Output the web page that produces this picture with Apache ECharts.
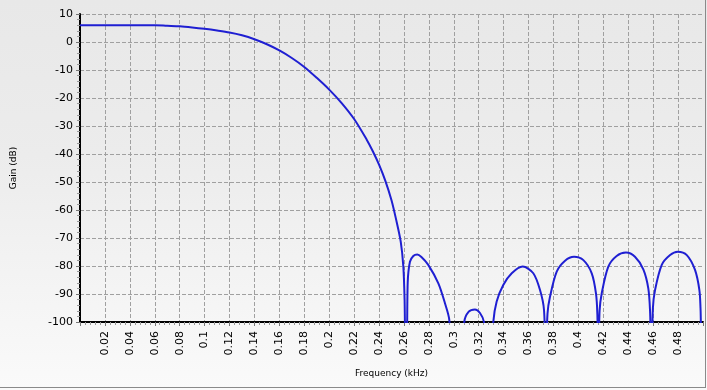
<!DOCTYPE html>
<html>
<head>
<meta charset="utf-8">
<script src="https://cdn.jsdelivr.net/npm/echarts@6/dist/echarts.min.js"></script>
<style>
html,body{margin:0;padding:0;}
#c{width:707px;height:390px;background:linear-gradient(to bottom,#e8e8e8 0%,#ececec 40%,#fafafa 100%);}
</style>
</head>
<body>
<div id="c"></div>
<script>
// Frequency (kHz)
var freq = [0,0.02,0.04,0.06,0.07,0.08,0.09,0.1,0.11,0.12,0.13,0.14,0.15,0.16,0.17,0.18,0.19,0.2,0.21,0.22,0.23,0.235,0.24,0.245,0.25,0.2535,0.2574,0.2595,0.2605,0.2614,0.2622,0.2630,0.2648,0.2675,0.2707,0.274,0.2795,0.2876,0.2929,0.2964,0.2975,0.3075,0.3084,0.312,0.317,0.321,0.3242,0.3255,0.3305,0.3317,0.3344,0.3397,0.3465,0.3553,0.3638,0.3692,0.3724,0.3738,0.3752,0.3772,0.3826,0.3893,0.3965,0.404,0.4107,0.4141,0.4152,0.4160,0.4170,0.4187,0.424,0.4307,0.4382,0.4454,0.4521,0.4561,0.4575,0.4587,0.4598,0.4615,0.4669,0.4736,0.4797,0.487,0.4936,0.4971,0.4980,0.4983];
// Gain (dB)
var gain = [6.0,6.0,6.0,6.0,5.8,5.6,5.2,4.7,4.1,3.4,2.4,1.0,-0.8,-3.0,-5.7,-8.9,-12.8,-17.0,-21.8,-27.5,-34.8,-39.0,-43.8,-49.5,-56.5,-63,-71.3,-80.2,-92,-115,-115,-86,-78.5,-76.4,-75.9,-76.8,-79.6,-86.2,-93.3,-99.3,-115,-115,-100,-96.3,-95.5,-96.8,-100,-115,-115,-100,-92.7,-86.8,-82.6,-80.2,-82.6,-88.6,-95.7,-115,-97,-91,-82,-78.1,-76.7,-77.9,-82.6,-89.8,-97,-115,-96,-89.8,-80.2,-76.4,-75.2,-76.7,-81.2,-88,-96,-115,-95,-88.6,-79.6,-76.1,-74.9,-76.1,-81.4,-88.6,-95,-101];
var xTitle = 'Frequency (kHz)';
var yTitle = 'Gain (dB)';

var chart = echarts.init(document.getElementById('c'), null, {renderer:'canvas'});
var data = freq.map(function(f,i){return [f, gain[i]];});
var font = 'DejaVu Sans';
chart.setOption({
  backgroundColor: 'transparent',
  animation: false,
  grid: {left: 80, right: 4, top: 14, bottom: 68, containLabel: false},
  xAxis: {
    type: 'value', min: 0, max: 0.5, interval: 0.02,
    name: xTitle, nameLocation: 'middle', nameGap: 47,
    nameTextStyle: {fontFamily: font, fontSize: 9, color: '#000'},
    axisLine: {show: true, onZero: false, lineStyle: {color: '#000', width: 2}},
    axisTick: {show: true, length: 4, lineStyle: {color: '#777'}},
    minorTick: {show: true, splitNumber: 5, length: 3, lineStyle: {color: '#999'}},
    axisLabel: {rotate: 90, margin: 9, fontFamily: font, fontSize: 11, color: '#000',
      showMinLabel: false, showMaxLabel: false,
      formatter: function(v){return String(+v.toFixed(2));}},
    splitLine: {show: true, showMinLine: false, showMaxLine: false, lineStyle: {color: '#a0a0a0', type: [4,2], width: 1}}
  },
  yAxis: {
    type: 'value', min: -100, max: 10, interval: 10,
    name: yTitle, nameLocation: 'middle', nameGap: 62,
    nameTextStyle: {fontFamily: font, fontSize: 9, color: '#000'},
    axisLine: {show: true, onZero: false, lineStyle: {color: '#000', width: 2}},
    axisTick: {show: true, length: 4, lineStyle: {color: '#777'}},
    minorTick: {show: true, splitNumber: 5, length: 3, lineStyle: {color: '#999'}},
    axisLabel: {margin: 7, fontFamily: font, fontSize: 11, color: '#000'},
    splitLine: {show: true, showMinLine: false, lineStyle: {color: '#a0a0a0', type: [4,2], width: 1}}
  },
  series: [{
    type: 'line', data: data, showSymbol: false, symbol: 'none',
    clip: true, smooth: 0.3,
    lineStyle: {color: '#1f1fd2', width: 2}
  }],
  graphic: [
    {type: 'line', shape: {x1: 705.5, y1: 0, x2: 705.5, y2: 388}, style: {stroke: '#8a8a8a', lineWidth: 1}},
    {type: 'line', shape: {x1: 0, y1: 387.5, x2: 706, y2: 387.5}, style: {stroke: '#8a8a8a', lineWidth: 1}}
  ]
});
</script>
</body>
</html>
